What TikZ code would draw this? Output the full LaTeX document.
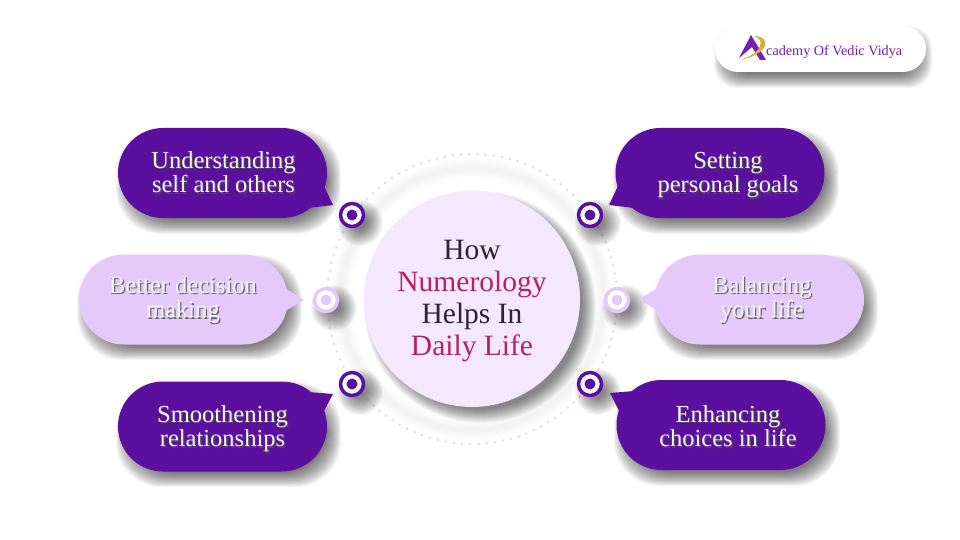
\documentclass[tikz,border=0pt]{standalone}
\usepackage{fontspec}
\setmainfont{Liberation Serif}
\usetikzlibrary{shapes.misc}
\definecolor{deeppurple}{HTML}{5A0F9F}
\definecolor{lightpurple}{HTML}{E4C9FA}
\definecolor{discfill}{HTML}{F3E8FC}
\definecolor{dotcol}{HTML}{E6DCF0}
\definecolor{headdark}{HTML}{2B2433}
\definecolor{headpink}{HTML}{B4235F}
\definecolor{logopurple}{HTML}{7A1CB4}
\definecolor{logogold}{HTML}{D9AE3C}
\definecolor{bubbletext}{HTML}{FAF4FF}
\tikzset{
  bubble/.style={rounded rectangle,minimum width=209pt,minimum height=90pt,inner sep=0pt},
  bubbledark/.style={bubble,fill=deeppurple},
  bubblelight/.style={bubble,fill=lightpurple},
  bubblelabel/.style={align=center,inner sep=0pt,text=bubbletext,font=\fontsize{24.5}{24.5}\selectfont},
  headline/.style={align=center,font=\fontsize{29.5}{32}\selectfont},
  marker/.style={circle,draw=#1,line width=3.5pt,fill=white,minimum size=23pt,inner sep=0pt}
}
\newcommand{\softbox}[6]{
  \foreach \g in {0,...,14}{
    \pgfmathsetmacro{\e}{8-1*\g}
    \fill[black,opacity=.042,rounded corners=#6pt] ({#1+#5-\e},{#2+8-\e}) rectangle ({#3+#5+\e},{#4+8+\e});
  }
}
\newcommand{\softdisc}[5]{
  \foreach \g in {0,...,14}{
    \pgfmathsetmacro{\e}{#4-\g*#5}
    \fill[black,opacity=.04] ({#1+8},{#2+8}) circle ({#3+\e});
  }
}
\newcommand{\shtext}[2]{\leavevmode\rlap{\smash{\raisebox{-1.5pt}{\kern1.3pt\textcolor{#1}{#2}}}}\smash{#2}\vphantom{x}}
\begin{document}
\begin{tikzpicture}[x=1pt,y=-1pt]
\useasboundingbox (0,0) rectangle (960,540);
\fill[white] (0,0) rectangle (960,540);

% soft band and dotted ring
\foreach \g in {0,...,5}
  \draw[black,opacity=.008,line width=4pt+3pt*\g] (472,299) circle (131);
\draw[dotcol,line width=3pt,line cap=round,dash pattern=on 0pt off 8.2pt] (472,299) circle (145);

% shadows
\softbox{722}{26}{924}{72}{0}{23}
\softbox{118}{128}{327}{218}{6}{45}
\softbox{79}{255}{288}{344}{6}{45}
\softbox{118}{382}{327}{471}{6}{45}
\softbox{615}{128}{825}{218}{6}{45}
\softbox{655}{255}{864}{344}{6}{45}
\softbox{616}{380}{826}{470}{6}{45}
\softdisc{472}{299}{108}{8}{1}
\softdisc{352}{215}{13}{10}{1.2}
\softdisc{326}{300}{13}{10}{1.2}
\softdisc{352}{384}{13}{10}{1.2}
\softdisc{590}{215}{13}{10}{1.2}
\softdisc{617}{300}{13}{10}{1.2}
\softdisc{590}{384}{13}{10}{1.2}

% logo
\node[rounded rectangle,fill=white,minimum width=211pt,minimum height=46pt,inner sep=0pt] (logopill) at (820.5,49) {};
\node[text=logopurple,font=\fontsize{14.2}{16}\selectfont,anchor=west,inner sep=0pt] (logotext) at (766,52) {cademy Of Vedic Vidya};
\fill[logopurple] (739,58) -- (751,35) -- (766,60) -- (760,60) -- (752,47) -- cycle;
\fill[logogold] (754,36) .. controls (772,36) and (770,54) .. (740,60) .. controls (762,53) and (766,40) .. (754,36) -- cycle;

% bubbles
\node[bubbledark] (understanding) at (222.5,173) {};
\fill[deeppurple] (324,186) -- (333,205) -- (308,208) -- cycle;
\node[bubblelabel] (understandingtext) at (223.5,175) {\shtext{black!70}{Understanding}\\\shtext{black!70}{self and others}};
\node[bubblelight] (decision) at (183.5,299.5) {};
\fill[lightpurple] (285,288) -- (304,300) -- (285,311) -- cycle;
\node[bubblelabel] (decisiontext) at (183,300) {\shtext{black!60}{Better decision}\\\shtext{black!60}{making}};
\node[bubbledark] (smoothening) at (222.5,426.5) {};
\fill[deeppurple] (308,392) -- (333,394) -- (324,411) -- cycle;
\node[bubblelabel] (smootheningtext) at (222.5,429) {\shtext{black!70}{Smoothening}\\\shtext{black!70}{relationships}};
\node[bubbledark] (goals) at (720,173) {};
\fill[deeppurple] (618,186) -- (609,205) -- (634,208) -- cycle;
\node[bubblelabel] (goalstext) at (728,175) {\shtext{black!70}{Setting}\\\shtext{black!70}{personal goals}};
\node[bubblelight] (balancing) at (759.5,299.5) {};
\fill[lightpurple] (658,288) -- (639,299) -- (658,311) -- cycle;
\node[bubblelabel] (balancingtext) at (762,300) {\shtext{black!60}{Balancing}\\\shtext{black!60}{your life}};
\node[bubbledark] (choices) at (721,425) {};
\fill[deeppurple] (634,391) -- (610,393) -- (619,411) -- cycle;
\node[bubblelabel] (choicestext) at (728,429) {\shtext{black!70}{Enhancing}\\\shtext{black!70}{choices in life}};

% markers
\foreach \mx/\my/\mcol/\mname in {352/215/deeppurple/marka,352/384/deeppurple/markb,590/215/deeppurple/markc,590/384/deeppurple/markd,326/300/lightpurple/marke,617/300/lightpurple/markf}{
  \node[marker=\mcol] (\mname) at (\mx,\my) {};
  \fill[\mcol] (\mx,\my) circle (5.5);
}

% centre
\node[circle,fill=discfill,minimum size=216pt,inner sep=0pt] (centre) at (472,299) {};
\node[headline] (howtext) at (472,301) {\textcolor{headdark}{How}\\\textcolor{headpink}{Numerology}\\\textcolor{headdark}{Helps In}\\\textcolor{headpink}{Daily Life}};
\end{tikzpicture}
\end{document}
